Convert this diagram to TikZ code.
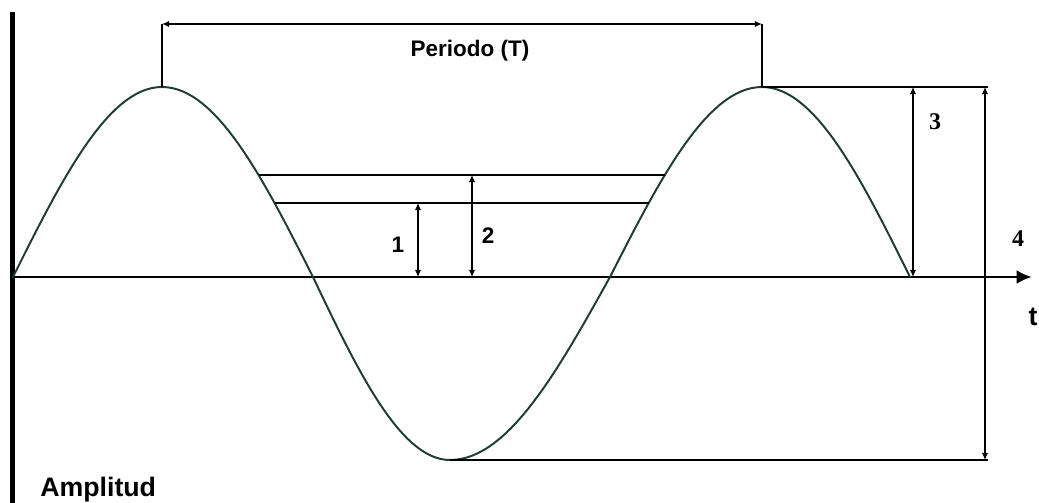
\documentclass[tikz,border=0pt]{standalone}
\usepackage{fontspec}
\setmainfont{Liberation Sans}
\newfontfamily\numserif{Liberation Serif}
\usetikzlibrary{arrows.meta}
\definecolor{wavegreen}{RGB}{32,62,48}

\begin{document}
\begin{tikzpicture}[x=0.025cm,y=-0.025cm,
 wave/.style={line width=1.4pt,wavegreen,line join=round,line cap=round},
 aux/.style={line width=0.9pt},
 dim/.style={line width=0.9pt,{Latex[length=5pt,width=4.5pt]}-{Latex[length=5pt,width=4.5pt]}},
 lbl/.style={font=\fontsize{16}{19}\selectfont\bfseries,inner sep=0pt}]
\useasboundingbox (0,0) rectangle (1039,503);
% ---------- axes
\coordinate (ytop) at (12.5,12);
\coordinate (ybot) at (12.5,503);
\coordinate (o) at (11,277);
\coordinate (tend) at (1032,277);
\draw[line width=3.5pt] (ytop)--(ybot);
\draw[line width=2.1pt,-{Latex[length=11pt,width=10pt]}] (o)--(tend);
% ---------- wave (quarter by quarter)
\draw[wave] (13,277)
 \foreach \xa/\xb/\pa/\amp in {13/162/0/190,162/313/90/190,313/450/180/183,450/610/270/183,610/762/0/190,762/910/90/190}{
 -- plot[domain=0:90,samples=30,variable=\t] ({\xa+(\xb-\xa)*\t/90},{277-\amp*sin(\pa+\t)})};
% ---------- period
\coordinate (pk1) at (162,87);
\coordinate (pk2) at (762,87);
\coordinate (pt1) at (162,24);
\coordinate (pt2) at (762,24);
\draw[aux] (pk1)--(pt1);
\draw[aux] (pk2)--(pt2);
\draw[dim] (pt1)--(pt2);
\node[lbl] (per) at (470,51){Periodo (T)};
% ---------- levels 1 and 2
\coordinate (a1) at (258.5,175);
\coordinate (a2) at (665,175);
\coordinate (b1) at (274.6,203);
\coordinate (b2) at (648.7,203);
\draw[aux] (a1)--(a2);
\draw[aux] (b1)--(b2);
\coordinate (d1t) at (418,203);
\coordinate (d1b) at (418,277);
\coordinate (d2t) at (472,175);
\coordinate (d2b) at (472,277);
\draw[dim] (d1t)--(d1b);
\draw[dim] (d2t)--(d2b);
\node[lbl] (n1) at (398,245){1};
\node[lbl] (n2) at (488,236){2};
% ---------- peak and peak-to-peak
\coordinate (r1) at (988,87);
\coordinate (tr) at (450,460);
\coordinate (r2) at (988,460);
\draw[aux] (pk2)--(r1);
\draw[aux] (tr)--(r2);
\coordinate (d3t) at (913,87);
\coordinate (d3b) at (913,277);
\coordinate (d4t) at (985,87);
\coordinate (d4b) at (985,460);
\draw[dim] (d3t)--(d3b);
\draw[dim] (d4t)--(d4b);
\node[lbl,font=\fontsize{17}{20}\selectfont\numserif\bfseries] (n3) at (935,122){3};
\node[lbl,font=\fontsize{17}{20}\selectfont\numserif\bfseries] (n4) at (1018,239){4};
% ---------- axis labels
\node[lbl,font=\fontsize{19}{22}\selectfont\bfseries] (tlab) at (1033,317){t};
\node[lbl,font=\fontsize{19}{22}\selectfont\bfseries,anchor=base west] (amp) at (40,497){Amplitud};
\end{tikzpicture}
\end{document}
